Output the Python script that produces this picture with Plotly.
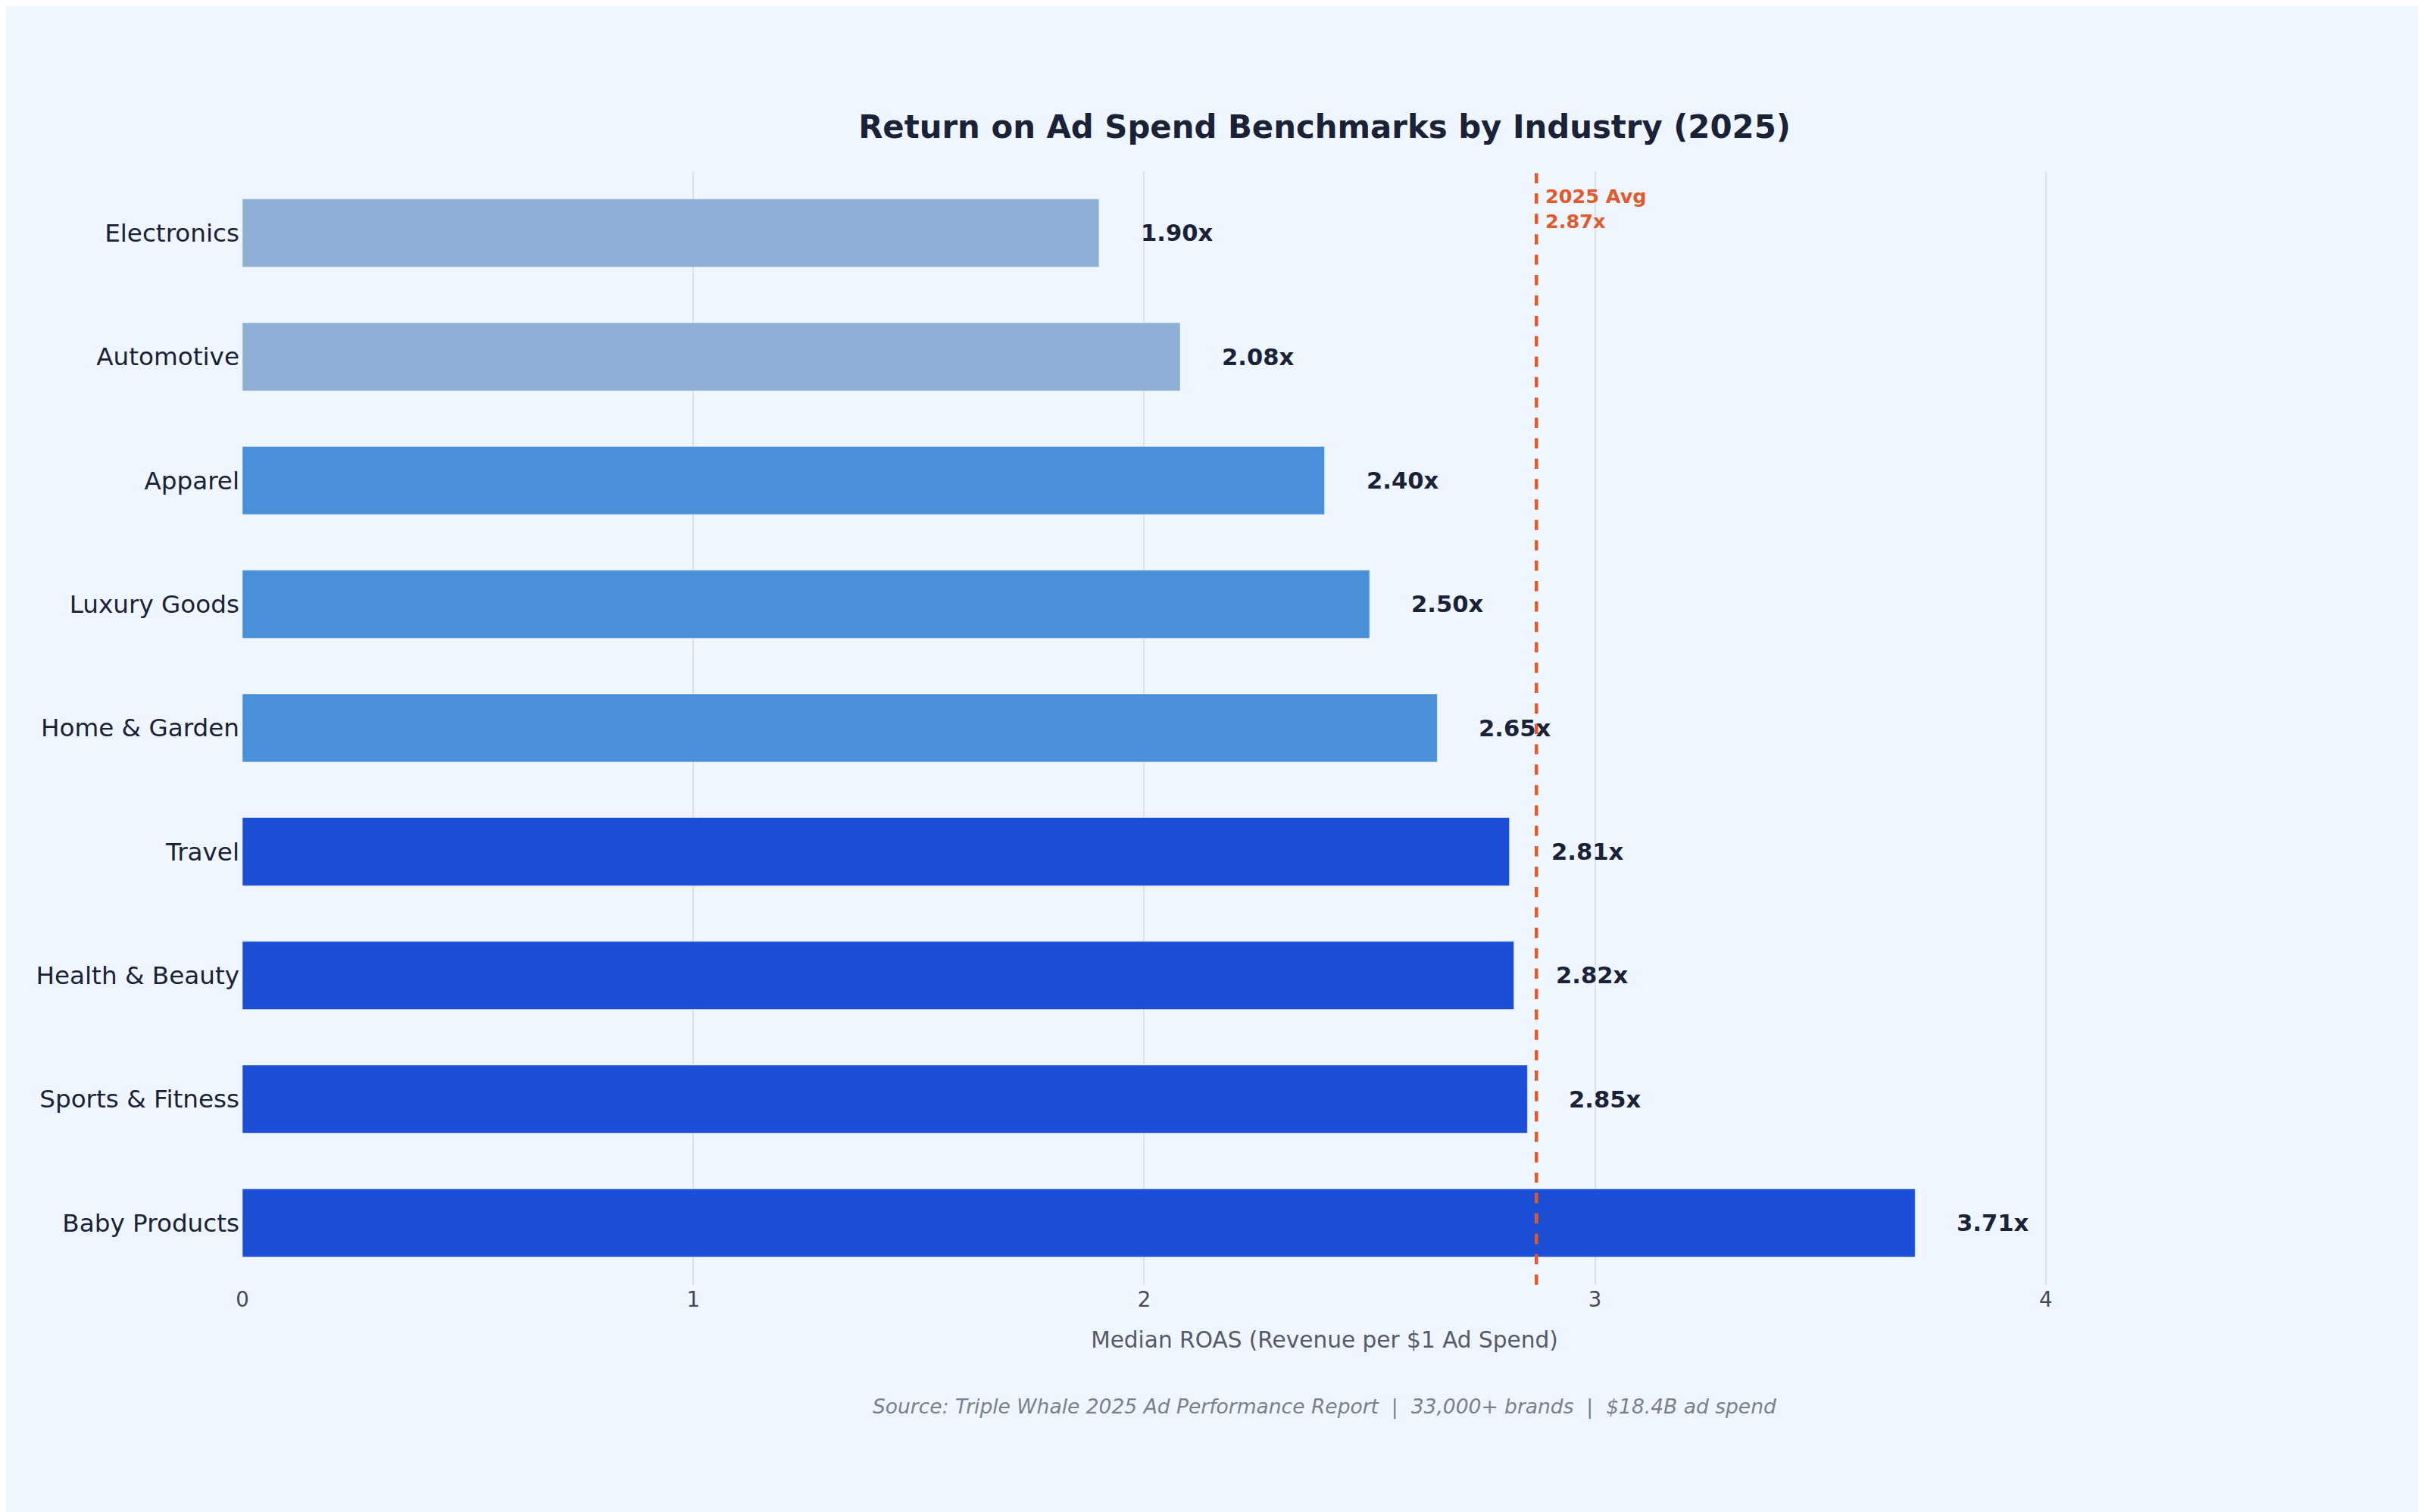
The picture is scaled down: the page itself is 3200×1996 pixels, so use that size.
import plotly.graph_objects as go

industries = ["Electronics", "Automotive", "Apparel", "Luxury Goods", "Home & Garden",
              "Travel", "Health & Beauty", "Sports & Fitness", "Baby Products"]
roas = [1.90, 2.08, 2.40, 2.50, 2.65, 2.81, 2.82, 2.85, 3.71]
tiers = ["low", "low", "mid", "mid", "mid", "high", "high", "high", "high"]
avg_roas = 2.87
tier_colors = {"low": "#8FB0D6", "mid": "#4A90D9", "high": "#1C4FD6"}

S = 2.04
fig = go.Figure(go.Bar(
    x=roas, y=industries, orientation="h", width=0.55,
    marker=dict(color=[tier_colors[t] for t in tiers]),
    hoverinfo="skip"))

for v, name in zip(roas, industries):
    fig.add_annotation(x=v, y=name, text=f"<b>{v:.2f}x</b>", showarrow=False,
                       xanchor="left", xshift=26 * S,
                       font=dict(size=15 * S, color="#1A2238"))

fig.add_shape(type="line", x0=avg_roas, x1=avg_roas, y0=0, y1=1, yref="paper",
              line=dict(color="#E05A2B", width=2.2 * S, dash="dash"))
fig.add_annotation(x=avg_roas, y=1, yref="paper", text="<b>2025 Avg<br>2.87x</b>",
                   showarrow=False, xanchor="left", yanchor="top", align="left",
                   xshift=5 * S, yshift=-8 * S,
                   font=dict(size=12.5 * S, color="#E05A2B"))

fig.add_annotation(x=0.5, y=-0.122, xref="paper", yref="paper", showarrow=False,
                   text="<i>Source: Triple Whale 2025 Ad Performance Report  |  33,000+ brands  |  $18.4B ad spend</i>",
                   font=dict(size=13 * S, color="#7A8090"))

fig.update_layout(
    width=3200, height=1996,
    paper_bgcolor="#EFF6FF", plot_bgcolor="#EFF6FF",
    font=dict(family="DejaVu Sans", color="#1A2238"),
    margin=dict(l=312, r=31, t=218, b=308),
    title=dict(text="<b>Return on Ad Spend Benchmarks by Industry (2025)</b>",
               x=0.5, xref="paper", y=1 - 78 / 978, yanchor="middle",
               font=dict(size=20.5 * S, color="#1A2238")),
    xaxis=dict(range=[0, 4.8], tickvals=[0, 1, 2, 3, 4], showgrid=True,
               gridcolor="#DCE2EE", gridwidth=1.5, zeroline=False, showline=False,
               tickfont=dict(size=13.5 * S, color="#444A58"),
               title=dict(text="Median ROAS (Revenue per $1 Ad Spend)",
                          font=dict(size=14.5 * S, color="#555B68"), standoff=14 * S)),
    yaxis=dict(autorange="reversed", showgrid=False, ticks="", ticklabelstandoff=3,
               tickfont=dict(size=16 * S, color="#1A2238")),
    showlegend=False,
)
fig.write_html("out.html")
